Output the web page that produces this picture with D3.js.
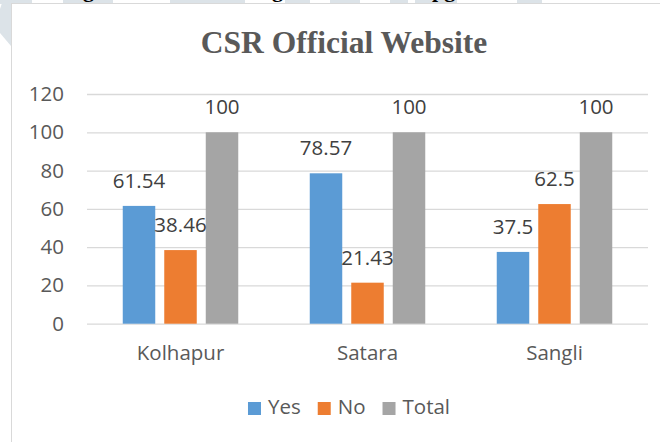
<!DOCTYPE html>
<html>
<head>
<meta charset="utf-8">
<script src="https://cdn.jsdelivr.net/npm/d3@7"></script>
<style>
  body { margin: 0; background: #fff; }
  svg { display: block; }
</style>
</head>
<body>
<script>
// data
const districts = ["Kolhapur", "Satara", "Sangli"]
const seriesNames = ["Yes", "No", "Total"]
const yesValues = [61.54, 78.57, 37.5]
const noValues = [38.46, 21.43, 62.5]
const totalValues = [100, 100, 100]
const yTicks = [0, 20, 40, 60, 80, 100, 120]
const colors = ["#5B9BD5", "#ED7D31", "#A5A5A5"]

const W = 660, H = 442
const svg = d3.select("body").append("svg").attr("width", W).attr("height", H)

// page watermark bits around the chart box
const wm = "#dce3e8"
svg.append("polygon").attr("points", "3,0 11,0 11,46 0,33 0,9").attr("fill", wm)
;[[0, 32], [63, 113], [170, 245], [285, 310], [330, 360], [390, 408], [415, 457], [517, 542]].forEach(r => {
  svg.append("rect").attr("x", r[0]).attr("y", 0).attr("width", r[1] - r[0]).attr("height", 4).attr("fill", wm)
})
// cut-off caption above the chart (only descenders show)
const cap = svg.append("g").attr("font-family", "Liberation Serif").attr("font-weight", "bold")
  .attr("font-size", 22).attr("fill", "#000")
cap.append("text").attr("x", 83).attr("y", -3).text("g")
cap.append("text").attr("x", 272).attr("y", -3).text("g")
cap.append("text").attr("x", 432).attr("y", -3).text("pg")

// chart box
svg.append("rect").attr("x", 11.5).attr("y", 3.5).attr("width", 700).attr("height", 500)
  .attr("fill", "#fff").attr("stroke", "#d9d9d9")

const plotL = 87, plotR = 648, plotT = 94, plotB = 323.7

const y = d3.scaleLinear().domain([0, 120]).range([plotB, plotT])
const x0 = d3.scaleBand().domain(districts).range([plotL, plotR])
const groupW = 115.5
const x1 = d3.scaleBand().domain(seriesNames)
  .range([(x0.bandwidth() - groupW) / 2, (x0.bandwidth() + groupW) / 2])
  .paddingInner(0.217)

// gridlines + y labels
const yAxis = d3.axisLeft(y).tickValues(yTicks).tickSize(-(plotR - plotL)).tickPadding(23)
const gy = svg.append("g").attr("transform", `translate(${plotL},0)`).call(yAxis)
gy.select(".domain").remove()
gy.selectAll(".tick line").attr("stroke", "#d9d9d9").attr("stroke-width", 1.3)
gy.selectAll(".tick text").attr("font-family", "Open Sans").attr("font-size", 20.5).attr("fill", "#595959")

// category labels
const xAxis = d3.axisBottom(x0).tickSize(0).tickPadding(22)
const gx = svg.append("g").attr("transform", `translate(0,${plotB})`).call(xAxis)
gx.select(".domain").remove()
gx.selectAll(".tick text").attr("font-family", "Open Sans").attr("font-size", 20.5).attr("fill", "#595959")

// bars
const rows = districts.map((d, i) => ({
  district: d,
  vals: [yesValues[i], noValues[i], totalValues[i]].map((v, j) => ({ key: seriesNames[j], v: v, c: colors[j] }))
}))

const groups = svg.selectAll(".grp").data(rows).enter().append("g")
  .attr("transform", d => `translate(${x0(d.district)},0)`)

groups.selectAll("rect").data(d => d.vals).enter().append("rect")
  .attr("x", d => x1(d.key))
  .attr("y", d => y(d.v))
  .attr("width", x1.bandwidth())
  .attr("height", d => plotB - y(d.v))
  .attr("fill", d => d.c)

groups.selectAll(".lbl").data(d => d.vals).enter().append("text")
  .attr("x", d => x1(d.key) + x1.bandwidth() / 2)
  .attr("y", d => y(d.v) - 18)
  .attr("text-anchor", "middle")
  .attr("font-family", "Open Sans").attr("font-size", 20.5).attr("fill", "#404040")
  .text(d => d.v)

// title
svg.append("text").attr("x", 344).attr("y", 52.5).attr("text-anchor", "middle")
  .attr("font-family", "Liberation Serif").attr("font-weight", "bold").attr("font-size", 31.5)
  .attr("fill", "#595959").text("CSR Official Website")

// legend
const leg = svg.append("g")
let lx = 0
seriesNames.forEach((s, i) => {
  const it = leg.append("g").attr("transform", `translate(${lx},0)`)
  it.append("rect").attr("x", 0).attr("y", 402).attr("width", 13).attr("height", 13).attr("fill", colors[i])
  const t = it.append("text").attr("x", 20).attr("y", 414)
    .attr("font-family", "Open Sans").attr("font-size", 20.5).attr("fill", "#595959").text(s)
  lx += 20 + t.node().getComputedTextLength() + 17
})
const legW = lx - 17
leg.attr("transform", `translate(${349 - legW / 2},0)`)
</script>
</body>
</html>
